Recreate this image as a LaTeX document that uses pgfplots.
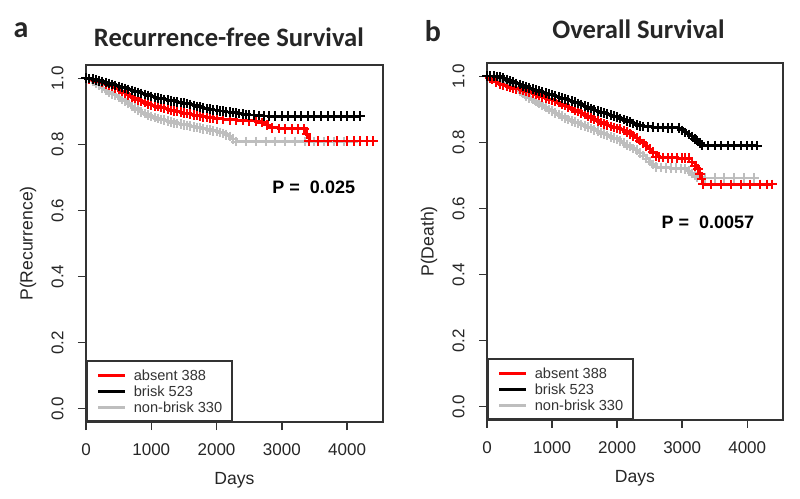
\documentclass[border=0pt]{standalone}
\usepackage{fontspec}
\setmainfont{Liberation Sans}
\newfontfamily\titlefont{Carlito}
\usepackage{pgfplots}
\pgfplotsset{compat=1.18}
\definecolor{kmred}{HTML}{FF0000}
\definecolor{kmgray}{HTML}{BEBEBE}
\definecolor{kmblack}{HTML}{000000}
\definecolor{framegray}{HTML}{333333}
\pgfplotsset{
  kmaxis/.style={
    scale only axis, height=178.5pt,
    xmin=0, xmax=4550, ymin=-0.04, ymax=1.04,
    xtick={0,1000,2000,3000,4000},
    ytick={0,0.2,0.4,0.6,0.8,1.0},
    /pgf/number format/assume math mode=true,
    /pgf/number format/1000 sep={},
    yticklabel={\pgfmathprintnumber[fixed,fixed zerofill,precision=1]{\tick}},
    tick align=outside, major tick length=4pt,
    xtick pos=bottom, ytick pos=left,
    every tick/.style={framegray, line width=0.7pt},
    axis line style={framegray, line width=0.8pt},
    tick label style={font=\fontsize{8.5}{10}\selectfont, inner sep=0pt, text=black!85},
    yticklabel style={rotate=90, anchor=south},
    xticklabel style={anchor=north},
    xticklabel shift=6.5pt, yticklabel shift=7pt,
    label style={font=\fontsize{8.8}{10}\selectfont, text=black!85},
    xlabel={Days},
    x label style={at={(axis description cs:0.5,0)}, anchor=center, yshift=-29pt},
    y label style={at={([xshift=-29pt]axis description cs:0,0.5)}, anchor=center},
    legend cell align=left,
    legend style={at={(0,0)}, anchor=south west, draw=framegray, line width=0.8pt,
      font=\fontsize{7.3}{8}\selectfont, inner xsep=5pt, inner ysep=3.5pt,
      row sep=1pt, column sep=3.5pt, text=black!80,
      nodes={inner sep=0pt, text height=6.3pt, text depth=0.7pt}},
    legend image code/.code={\draw[#1, line width=1.5pt] (0pt,0pt) -- (13.5pt,0pt);},
  },
  kmline/.style={const plot, line width=1.4pt, mark=+, mark size=2.4pt, mark options={line width=1pt}, forget plot},
}
\begin{document}
\begin{tikzpicture}[x=1pt,y=1pt]
\path[fill=white] (0,0) rectangle (400,249.5);

% ---------------- Panel a: Recurrence-free survival ----------------
\begin{axis}[kmaxis, at={(43pt,38.5pt)}, anchor=south west, width=148.5pt,
  ylabel={P(Recurrence)}]
\addlegendimage{color=kmred}\addlegendentry{absent 388}
\addlegendimage{color=kmblack}\addlegendentry{brisk 523}
\addlegendimage{color=kmgray}\addlegendentry{non-brisk 330}
% non-brisk 330
\addplot[kmline, color=kmgray] coordinates {
(0,1.0) (50,0.997) (100,0.992) (150,0.985) (200,0.978) (250,0.970) (300,0.963)
(350,0.957) (400,0.952) (450,0.948) (500,0.943) (550,0.937) (600,0.930)
(650,0.923) (700,0.916) (750,0.910) (800,0.904) (850,0.898) (900,0.893)
(950,0.888) (1000,0.884) (1050,0.881) (1100,0.878) (1150,0.875) (1200,0.873)
(1250,0.870) (1300,0.868) (1350,0.865) (1400,0.863) (1450,0.861) (1500,0.859)
(1550,0.857) (1600,0.855) (1650,0.853) (1700,0.851) (1750,0.849) (1800,0.847)
(1850,0.845) (1900,0.843) (1950,0.841) (2000,0.839) (2050,0.836) (2100,0.833)
(2150,0.829) (2200,0.824) (2250,0.816) (2300,0.808) (2450,0.808) (2600,0.808)
(2750,0.808) (2900,0.808) (3050,0.808) (3200,0.808) (3350,0.808) (3500,0.808)
(3650,0.808) (3800,0.808) (3950,0.808) (4100,0.808)};
% absent 388
\addplot[kmline, color=kmred] coordinates {
(0,1.0) (50,0.998) (100,0.996) (150,0.993) (200,0.990) (250,0.987) (300,0.983)
(350,0.979) (400,0.975) (450,0.971) (500,0.966) (550,0.960) (600,0.955)
(650,0.950) (700,0.944) (750,0.939) (800,0.934) (850,0.930) (900,0.926)
(950,0.922) (1000,0.919) (1050,0.916) (1100,0.914) (1150,0.911) (1200,0.909)
(1250,0.906) (1300,0.904) (1350,0.901) (1400,0.899) (1450,0.897) (1500,0.895)
(1550,0.893) (1600,0.891) (1650,0.889) (1700,0.887) (1750,0.885) (1800,0.883)
(1850,0.882) (1900,0.880) (1950,0.879) (2000,0.877) (2100,0.876) (2200,0.874)
(2300,0.873) (2400,0.872) (2500,0.871) (2600,0.870) (2700,0.866) (2775,0.858)
(2850,0.850) (2950,0.848) (3050,0.847) (3150,0.847) (3250,0.847) (3340,0.847)
(3380,0.830) (3420,0.810) (3550,0.810) (3700,0.810) (3850,0.810) (4000,0.810)
(4100,0.810) (4200,0.810) (4300,0.810) (4400,0.810)};
% brisk 523
\addplot[kmline, color=kmblack] coordinates {
(0,1.0) (50,0.999) (100,0.997) (150,0.995) (200,0.992) (250,0.990) (300,0.987)
(350,0.984) (400,0.981) (450,0.978) (500,0.975) (550,0.972) (600,0.969)
(650,0.966) (700,0.963) (750,0.960) (800,0.957) (850,0.954) (900,0.951)
(950,0.948) (1000,0.945) (1050,0.942) (1100,0.940) (1150,0.938) (1200,0.936)
(1250,0.934) (1300,0.932) (1350,0.930) (1400,0.928) (1450,0.926) (1500,0.925)
(1550,0.923) (1600,0.921) (1650,0.918) (1700,0.915) (1750,0.913) (1800,0.910)
(1850,0.908) (1900,0.906) (1950,0.904) (2000,0.903) (2050,0.901) (2100,0.900)
(2150,0.898) (2200,0.897) (2250,0.896) (2300,0.895) (2350,0.893) (2400,0.892)
(2450,0.890) (2500,0.889) (2575,0.888) (2650,0.887) (2725,0.886) (2800,0.885)
(2900,0.885) (3000,0.885) (3100,0.885) (3200,0.885) (3300,0.885) (3400,0.885)
(3500,0.885) (3600,0.885) (3700,0.885) (3800,0.885) (3900,0.885) (4000,0.885)
(4100,0.885) (4200,0.885)};
\node[anchor=east, font=\bfseries\fontsize{9}{10}\selectfont] at (axis cs:4230,0.671) {P =\ \ 0.025};
\end{axis}

% ---------------- Panel b: Overall survival ----------------
\begin{axis}[kmaxis, at={(243.5pt,39.5pt)}, anchor=south west, width=148pt,
  ylabel={P(Death)}]
\addlegendimage{color=kmred}\addlegendentry{absent 388}
\addlegendimage{color=kmblack}\addlegendentry{brisk 523}
\addlegendimage{color=kmgray}\addlegendentry{non-brisk 330}
% non-brisk 330
\addplot[kmline, color=kmgray] coordinates {
(0,1.0) (50,0.998) (100,0.995) (150,0.992) (200,0.988) (250,0.983) (300,0.979)
(350,0.973) (400,0.967) (450,0.960) (500,0.954) (550,0.948) (600,0.941)
(650,0.935) (700,0.929) (750,0.923) (800,0.917) (850,0.911) (900,0.905)
(950,0.899) (1000,0.894) (1050,0.889) (1100,0.884) (1150,0.879) (1200,0.874)
(1250,0.869) (1300,0.865) (1350,0.861) (1400,0.857) (1450,0.853) (1500,0.850)
(1550,0.846) (1600,0.842) (1650,0.838) (1700,0.834) (1750,0.829) (1800,0.825)
(1850,0.821) (1900,0.817) (1950,0.813) (2000,0.809) (2050,0.804) (2100,0.798)
(2150,0.792) (2200,0.787) (2250,0.781) (2300,0.776) (2350,0.768) (2400,0.760)
(2450,0.751) (2500,0.742) (2550,0.733) (2600,0.725) (2675,0.724) (2750,0.723)
(2825,0.722) (2900,0.722) (2975,0.721) (3050,0.720) (3100,0.713) (3150,0.706)
(3190,0.700) (3230,0.694) (3350,0.692) (3500,0.692) (3650,0.692) (3800,0.692)
(3950,0.692) (4100,0.692)};
% absent 388
\addplot[kmline, color=kmred] coordinates {
(0,1.0) (40,0.995) (80,0.990) (140,0.982) (200,0.975) (250,0.972) (300,0.970)
(350,0.967) (400,0.965) (450,0.962) (500,0.960) (550,0.957) (600,0.955)
(650,0.952) (700,0.949) (750,0.945) (800,0.942) (850,0.938) (900,0.935)
(950,0.931) (1000,0.928) (1050,0.924) (1100,0.920) (1150,0.915) (1200,0.911)
(1250,0.906) (1300,0.902) (1350,0.897) (1400,0.893) (1450,0.888) (1500,0.884)
(1550,0.879) (1600,0.874) (1650,0.869) (1700,0.865) (1750,0.860) (1800,0.856)
(1850,0.852) (1900,0.848) (1950,0.845) (2000,0.842) (2050,0.840) (2100,0.836)
(2150,0.832) (2200,0.826) (2250,0.820) (2300,0.813) (2350,0.805) (2400,0.797)
(2450,0.788) (2500,0.780) (2550,0.770) (2600,0.757) (2650,0.755) (2700,0.754)
(2775,0.753) (2850,0.753) (2925,0.752) (3000,0.752) (3050,0.752) (3100,0.752)
(3150,0.740) (3200,0.728) (3240,0.720) (3270,0.705) (3300,0.690) (3320,0.673)
(3450,0.673) (3600,0.673) (3750,0.673) (3900,0.673) (4050,0.673) (4200,0.673)
(4300,0.673) (4380,0.673)};
% brisk 523
\addplot[kmline, color=kmblack] coordinates {
(0,1.0) (50,1.0) (100,1.0) (150,0.999) (200,0.998) (250,0.994) (300,0.990)
(350,0.986) (400,0.982) (450,0.978) (500,0.975) (550,0.971) (600,0.968)
(650,0.964) (700,0.961) (750,0.958) (800,0.955) (850,0.952) (900,0.949)
(950,0.946) (1000,0.943) (1050,0.940) (1100,0.937) (1150,0.934) (1200,0.931)
(1250,0.928) (1300,0.925) (1350,0.922) (1400,0.918) (1450,0.914) (1500,0.910)
(1550,0.906) (1600,0.902) (1650,0.898) (1700,0.895) (1750,0.891) (1800,0.888)
(1850,0.885) (1900,0.882) (1950,0.879) (2000,0.876) (2050,0.872) (2100,0.869)
(2150,0.865) (2200,0.861) (2250,0.857) (2300,0.853) (2350,0.850) (2400,0.848)
(2475,0.847) (2550,0.846) (2625,0.845) (2700,0.845) (2775,0.844) (2850,0.844)
(2950,0.843) (3000,0.836) (3050,0.830) (3100,0.824) (3150,0.818) (3190,0.810)
(3230,0.805) (3270,0.798) (3300,0.792) (3400,0.790) (3500,0.790) (3600,0.790)
(3700,0.790) (3800,0.790) (3900,0.790) (4000,0.790) (4075,0.790) (4150,0.790)};
\node[anchor=east, font=\bfseries\fontsize{9}{10}\selectfont] at (axis cs:4215,0.559) {P =\ \ 0.0057};
\end{axis}

% ---------------- titles and panel letters ----------------
\node[anchor=base, font=\titlefont\bfseries\fontsize{13.3}{15}\selectfont, text=black!85] at (114.5,226.2) {Recurrence-free Survival};
\node[anchor=base, font=\titlefont\bfseries\fontsize{13.3}{15}\selectfont, text=black!85] at (319.25,230) {Overall Survival};
\node[anchor=base, font=\titlefont\bfseries\fontsize{15}{17}\selectfont, text=black!85] at (10.5,230.5) {a};
\node[anchor=base, font=\titlefont\bfseries\fontsize{15}{17}\selectfont, text=black!85] at (216.5,228.7) {b};

\pgfresetboundingbox
\useasboundingbox (0,0) rectangle (400,249.5);
\end{tikzpicture}
\end{document}
